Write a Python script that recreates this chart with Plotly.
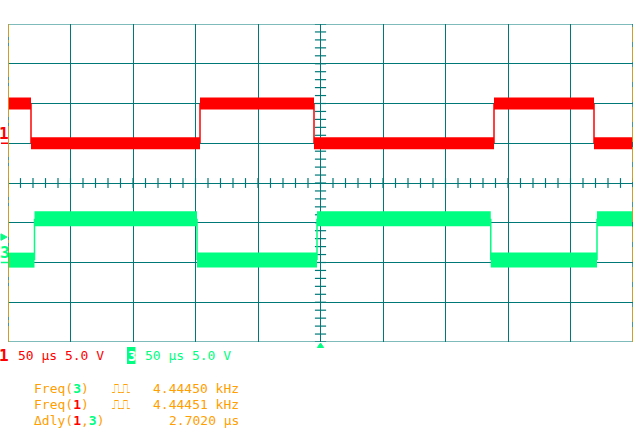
import plotly.graph_objects as go
import numpy as np

time_range_us = [0, 500]           # 10 div x 50 us
div_range = [-4, 4]                 # 8 vertical divisions
volts_per_div = 5.0

ch1_offset_div = 1.0
ch1_edges_us = [18.4, 153.6, 244.8, 388.8, 468.8]
ch1_levels_v = [5.0, 0.0, 5.0, 0.0, 5.0, 0.0]

ch3_offset_div = -2.0
ch3_edges_us = [21.2, 151.2, 247.2, 386.2, 471.2]
ch3_levels_v = [0.3, 5.5, 0.3, 5.5, 0.3, 5.5]

ch3_trigger_v = 3.2

freq3_text = "4.44450 kHz"
freq1_text = "4.44451 kHz"
dly_text = "2.7020 µs"
scale_text = "50 µs 5.0 V"

# ---------------- styling ----------------
W, H = 640, 435
PX0, PX1, PY0, PY1 = 8, 633, 24, 342
TEAL = "#007878"
ORANGE = "#FFA000"
RED = "#FF0000"
GREEN = "#00FF80"
FONT = "DejaVu Sans Mono, Liberation Mono, monospace"


def px(x):
    return x / W


def py(y):
    return 1 - y / H


def build(edges, levels, offset):
    bounds = [time_range_us[0]] + list(edges) + [time_range_us[1]]
    ydiv = [offset + v / volts_per_div for v in levels]
    bx, by = [], []
    for i, lv in enumerate(ydiv):
        bx += [bounds[i], bounds[i + 1], None]
        by += [lv, lv, None]
    ex, ey = [], []
    for i, e in enumerate(edges):
        ex += [e, e, None]
        ey += [ydiv[i], ydiv[i + 1], None]
    return bx, by, ex, ey


fig = go.Figure()

# center cross minor ticks
hx = np.arange(time_range_us[0], time_range_us[1] + 0.1, 10)
fig.add_trace(go.Scatter(x=hx, y=[0] * len(hx), mode="markers", hoverinfo="skip",
                         marker=dict(symbol="line-ns-open", size=7, color=TEAL,
                                     line=dict(color=TEAL, width=1.2))))
vy = np.arange(div_range[0], div_range[1] + 0.01, 0.2)
fig.add_trace(go.Scatter(x=[250] * len(vy), y=vy, mode="markers", hoverinfo="skip",
                         marker=dict(symbol="line-ew-open", size=8, color=TEAL,
                                     line=dict(color=TEAL, width=1.2))))

for edges, levels, off, col, bw in [
    (ch1_edges_us, ch1_levels_v, ch1_offset_div, RED, 12),
    (ch3_edges_us, ch3_levels_v, ch3_offset_div, GREEN, 15),
]:
    bx, by, ex, ey = build(edges, levels, off)
    fig.add_trace(go.Scatter(x=ex, y=ey, mode="lines", hoverinfo="skip",
                             line=dict(color=col, width=1.5)))
    fig.add_trace(go.Scatter(x=bx, y=by, mode="lines", hoverinfo="skip",
                             line=dict(color=col, width=bw)))

shapes = []
# top / bottom border teal
for yv in div_range:
    shapes.append(dict(type="line", xref="x", yref="y", x0=time_range_us[0], x1=time_range_us[1],
                       y0=yv, y1=yv, line=dict(color=TEAL, width=1.2)))
# left/right borders: orange with teal breaks
for xv, dash in [(time_range_us[0], "16px,3px,3px,3px,15px,0px"),
                 (time_range_us[1], "15px,5px")]:
    shapes.append(dict(type="line", xref="x", yref="y", x0=xv, x1=xv, y0=div_range[0], y1=div_range[1],
                       line=dict(color=TEAL, width=1.5)))
    shapes.append(dict(type="line", xref="x", yref="y", x0=xv, x1=xv, y0=div_range[0], y1=div_range[1],
                       line=dict(color=ORANGE, width=1.5, dash=dash)))
# ground level markers
for off, col in [(ch1_offset_div, RED), (ch3_offset_div, GREEN)]:
    shapes.append(dict(type="line", xref="paper", yref="y", x0=px(1), x1=px(8), y0=off, y1=off,
                       line=dict(color=col, width=1.5)))
# trigger level marker (ch3)
ty = ch3_offset_div + ch3_trigger_v / volts_per_div
shapes.append(dict(type="path", xref="paper", yref="y", fillcolor=GREEN, line=dict(color=GREEN, width=1),
                   path=f"M {px(1)},{ty + 0.08} L {px(7)},{ty} L {px(1)},{ty - 0.08} Z"))
# trigger time marker (bottom center)
shapes.append(dict(type="path", xref="x", yref="paper", fillcolor=GREEN, line=dict(color=GREEN, width=1),
                   path=f"M {250 - 2.5},{py(347.5)} L 250,{py(343)} L {250 + 2.5},{py(347.5)} Z"))
# inverted "3" box
shapes.append(dict(type="rect", xref="paper", yref="paper", x0=px(127), x1=px(135.5),
                   y0=py(364), y1=py(347), fillcolor=GREEN, line=dict(width=0)))

ann = []


def txt(x, y, text, color=ORANGE, size=13, anchor="left"):
    ann.append(dict(x=px(x), y=py(y), xref="paper", yref="paper", text=text, showarrow=False,
                    xanchor=anchor, yanchor="middle", font=dict(family=FONT, size=size, color=color)))


def big(d, col):
    return f'<span style="color:{col}"><b>{d}</b></span>'


txt(4, 133.5, "<b>1</b>", RED, 16, "center")
txt(5, 252, "<b>3</b>", GREEN, 16, "center")
txt(4, 355, "<b>1</b>", RED, 16, "center")
txt(16, 355, scale_text, RED)
txt(131.5, 355.5, "<b>3</b>", "white", 14, "center")
txt(143, 355, scale_text, GREEN)

txt(32, 388, "Freq(" + big("3", GREEN) + ")")
txt(32, 404, "Freq(" + big("1", RED) + ")")
txt(32, 420, "Δdly(" + big("1", RED) + "," + big("3", GREEN) + ")")
txt(110, 388, "⎍⎍", size=13)
txt(110, 404, "⎍⎍", size=13)
txt(241, 388, freq3_text, anchor="right")
txt(241, 404, freq1_text, anchor="right")
txt(241, 420, dly_text, anchor="right")

fig.update_layout(
    width=W, height=H, margin=dict(l=0, r=0, t=0, b=0),
    paper_bgcolor="white", plot_bgcolor="white", showlegend=False,
    xaxis=dict(domain=[px(PX0), px(PX1)], range=time_range_us, dtick=50, tick0=0,
               showgrid=True, gridcolor=TEAL, gridwidth=1.2, showticklabels=False,
               zeroline=False, showline=False, ticks="", fixedrange=True),
    yaxis=dict(domain=[py(PY1), py(PY0)], range=div_range, dtick=1, tick0=0,
               showgrid=True, gridcolor=TEAL, gridwidth=1.2, showticklabels=False,
               zeroline=False, showline=False, ticks="", fixedrange=True),
    shapes=shapes, annotations=ann,
)

fig.write_html("out.html", config={"displayModeBar": False},
               post_script="document.body.style.margin='0';document.body.style.overflow='hidden';")
